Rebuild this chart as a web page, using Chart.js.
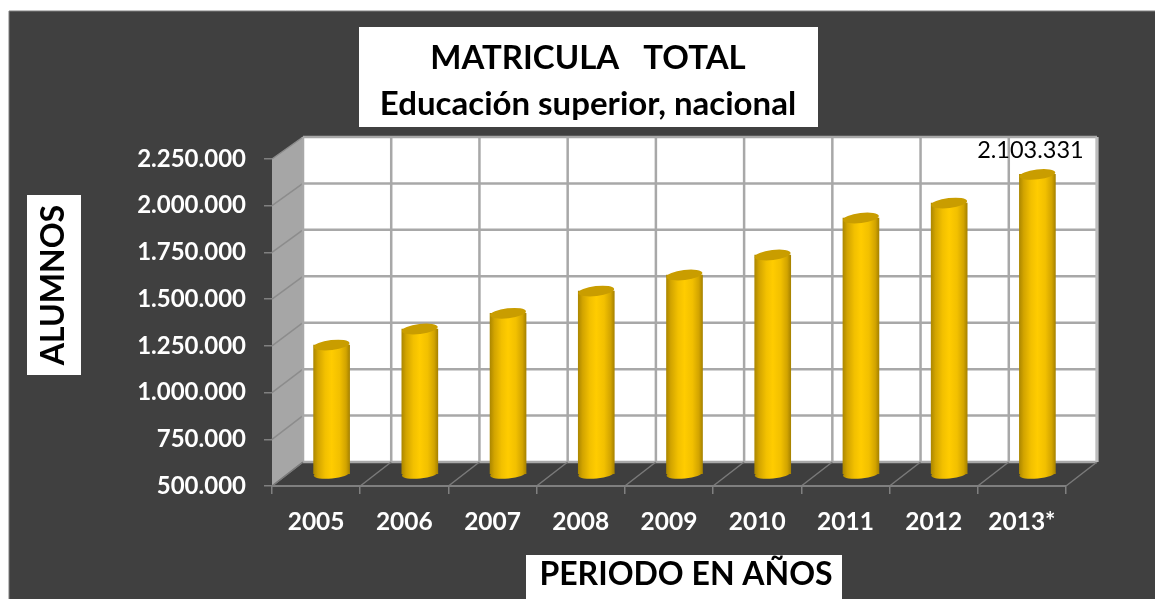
<!DOCTYPE html>
<html><head><meta charset="utf-8">
<style>html,body{margin:0;padding:0;background:#fff;overflow:hidden}#w{width:1155px;height:599px}</style>
<script src="https://cdn.jsdelivr.net/npm/chart.js@4"></script>
</head><body><div id="w"><canvas id="c" width="1155" height="599"></canvas></div>
<script>
const categories = ["2005","2006","2007","2008","2009","2010","2011","2012","2013*"];
const matricula = [1190000,1276000,1360000,1479000,1565000,1672000,1870000,1950000,2103331];
const labelledIndex = 8;
const titleLines = ["MATRICULA   TOTAL","Educación superior, nacional"];
const xTitle = "PERIODO EN AÑOS";
const yTitle = "ALUMNOS";
const FF = "Lato, 'Open Sans', sans-serif";
const fmt = v => String(Math.round(v)).replace(/\B(?=(\d{3})+$)/g,".");
const DX=31, DY=-24, BX=15.5, BY=-12;
const GRID="#a8a8a8";

function barGrad(ctx,x,w){
  const g=ctx.createLinearGradient(x-w/2,0,x+w/2,0);
  g.addColorStop(0,"#ad8800");g.addColorStop(.12,"#d2a400");g.addColorStop(.32,"#f2c000");g.addColorStop(.5,"#ffcc00");
  g.addColorStop(.72,"#f2c000");g.addColorStop(.9,"#d2a400");g.addColorStop(1,"#a88300");
  return g;
}
const scene={
  id:"scene",
  afterLayout(chart){
    const t=chart.titleBlock; const d=588-(t.left+t.right)/2; t.left+=d; t.right+=d;
    const wrap=(s,dx,dy)=>{ if(s._w) return; s._w=1; const o=s.drawTitle;
      s.drawTitle=function(){const c=this.ctx;c.save();c.translate(dx,dy);o.call(this);c.restore();}; };
    wrap(chart.scales.y,0,285-(chart.chartArea.top+chart.chartArea.bottom)/2);
    wrap(chart.scales.x,686-(chart.chartArea.left+chart.chartArea.right)/2,0);
  },
  beforeDraw(chart){
    const c=chart.ctx, a=chart.chartArea, y=chart.scales.y;
    c.save();
    c.fillStyle="#fff";c.fillRect(0,0,1155,599);
    c.fillStyle="#404040";c.fillRect(9,11,1146,588);
    c.strokeStyle="#7f7f7f";c.lineWidth=1;c.beginPath();c.moveTo(9,599);c.lineTo(9,11);c.lineTo(1155,11);c.stroke();
    c.fillStyle="#fff";
    c.fillRect(359,27,459,100);    // title box
    c.fillRect(27,195,54,180);     // y-title box
    c.fillRect(526,555,316,44);    // x-title box
    const poly=(p,f)=>{c.beginPath();p.forEach((q,i)=>i?c.lineTo(q[0],q[1]):c.moveTo(q[0],q[1]));c.closePath();c.fillStyle=f;c.fill();};
    const L=a.left,R=a.right,T=a.top,B=a.bottom;
    const back=p=>p+DY+2*(B-p)/(B-T);
    poly([[L+DX,back(T)],[R+DX,back(T)],[R+DX,back(B)],[L+DX,back(B)]],"#fff");
    poly([[L,B],[L+DX,back(B)],[L+DX,back(T)],[L,T]],"#a6a6a6");
    poly([[L,B],[L+DX,back(B)],[R+DX,back(B)],[R,B]],"#3e3e3e");
    c.lineWidth=2.5;
    y.ticks.forEach(t=>{const p=y.getPixelForValue(t.value);
      c.strokeStyle="#8c8c8c";c.lineWidth=1.5;c.beginPath();c.moveTo(L,p);c.lineTo(L+DX,back(p));c.stroke();
      c.strokeStyle=GRID;c.lineWidth=2.5;c.beginPath();c.moveTo(L+DX,back(p));c.lineTo(R+DX,back(p));c.stroke();});
    const step=(R-L)/categories.length;
    for(let i=0;i<=categories.length;i++){
      const px=L+i*step;
      c.strokeStyle=GRID;c.lineWidth=2.5;c.beginPath();c.moveTo(px+DX,back(T));c.lineTo(px+DX,back(B));c.stroke();
      c.strokeStyle="#7a7a7a";c.lineWidth=1.5;c.beginPath();c.moveTo(px,B);c.lineTo(px+DX,back(B));c.stroke();
    }
    c.strokeStyle="#bdbdbd";c.lineWidth=3;c.beginPath();c.moveTo(R+DX,back(T));c.lineTo(R+DX,back(B));c.stroke();
    c.strokeStyle="#7f7f7f";c.lineWidth=2;c.beginPath();c.moveTo(L,B);c.lineTo(R,B);c.stroke();
    c.restore();
  },
  beforeDatasetsDraw(chart){
    const c=chart.ctx, bottom=chart.chartArea.bottom;c.save();c.translate(BX,BY);
    chart.getDatasetMeta(0).data.forEach(b=>{
      c.beginPath();c.ellipse(b.x,bottom,b.width/2,4.5,-0.1,0,Math.PI*2);
      c.fillStyle=barGrad(c,b.x,b.width);c.fill();
    });
  },
  afterDatasetsDraw(chart){
    const c=chart.ctx;
    chart.getDatasetMeta(0).data.forEach((b,i)=>{
      c.beginPath();c.ellipse(b.x,b.y,b.width/2,5,-0.12,0,Math.PI*2);
      c.fillStyle="#c99d00";c.fill();
      if(i===labelledIndex){
        c.save();c.fillStyle="#000";c.font="23.5px "+FF;c.textAlign="center";c.textBaseline="middle";
        c.fillText(fmt(matricula[i]),b.x-7,b.y-24);c.restore();
      }
    });
    c.restore();
  }
};
new Chart(document.getElementById("c"),{
  type:"bar",
  data:{labels:categories,datasets:[{data:matricula,barThickness:36,borderWidth:0,
    backgroundColor(ctx){
      const xs=ctx.chart.scales.x; if(!xs||ctx.dataIndex===undefined) return "#ffcc00";
      const px=xs.getPixelForValue(ctx.dataIndex);
      return Number.isFinite(px)?barGrad(ctx.chart.ctx,px,36):"#ffcc00";}}]},
  options:{
    responsive:false,animation:false,
    layout:{padding:{left:0,right:89,top:0,bottom:0}},
    plugins:{
      legend:{display:false},tooltip:{enabled:false},
      title:{display:true,text:titleLines,color:"#000",font:{family:FF,size:33,weight:"bold",lineHeight:1.394},
        padding:{top:35,bottom:32}}
    },
    scales:{
      x:{afterFit(s){s.height=113;},
        grid:{drawOnChartArea:false,color:"#808080",tickLength:8,lineWidth:1.5},
        border:{display:false},
        ticks:{color:"#fff",padding:13,maxRotation:0,font:{family:FF,size:24.5,weight:"bold"}},
        title:{display:true,text:xTitle,color:"#000",font:{family:FF,size:32,weight:"bold",lineHeight:1},padding:{top:0,bottom:8}}},
      y:{min:500000,max:2250000,afterFit(s){s.width=272;},
        grid:{drawOnChartArea:false,color:"#808080",tickLength:8,lineWidth:1.5},
        border:{display:false},
        ticks:{stepSize:250000,color:"#fff",padding:18,font:{family:FF,size:24,weight:"bold"},callback:v=>fmt(v)},
        title:{display:true,text:yTitle,color:"#000",font:{family:FF,size:32,weight:"bold",lineHeight:1},padding:{top:38,bottom:0}}}
    }
  },
  plugins:[scene]
});
</script></body></html>
